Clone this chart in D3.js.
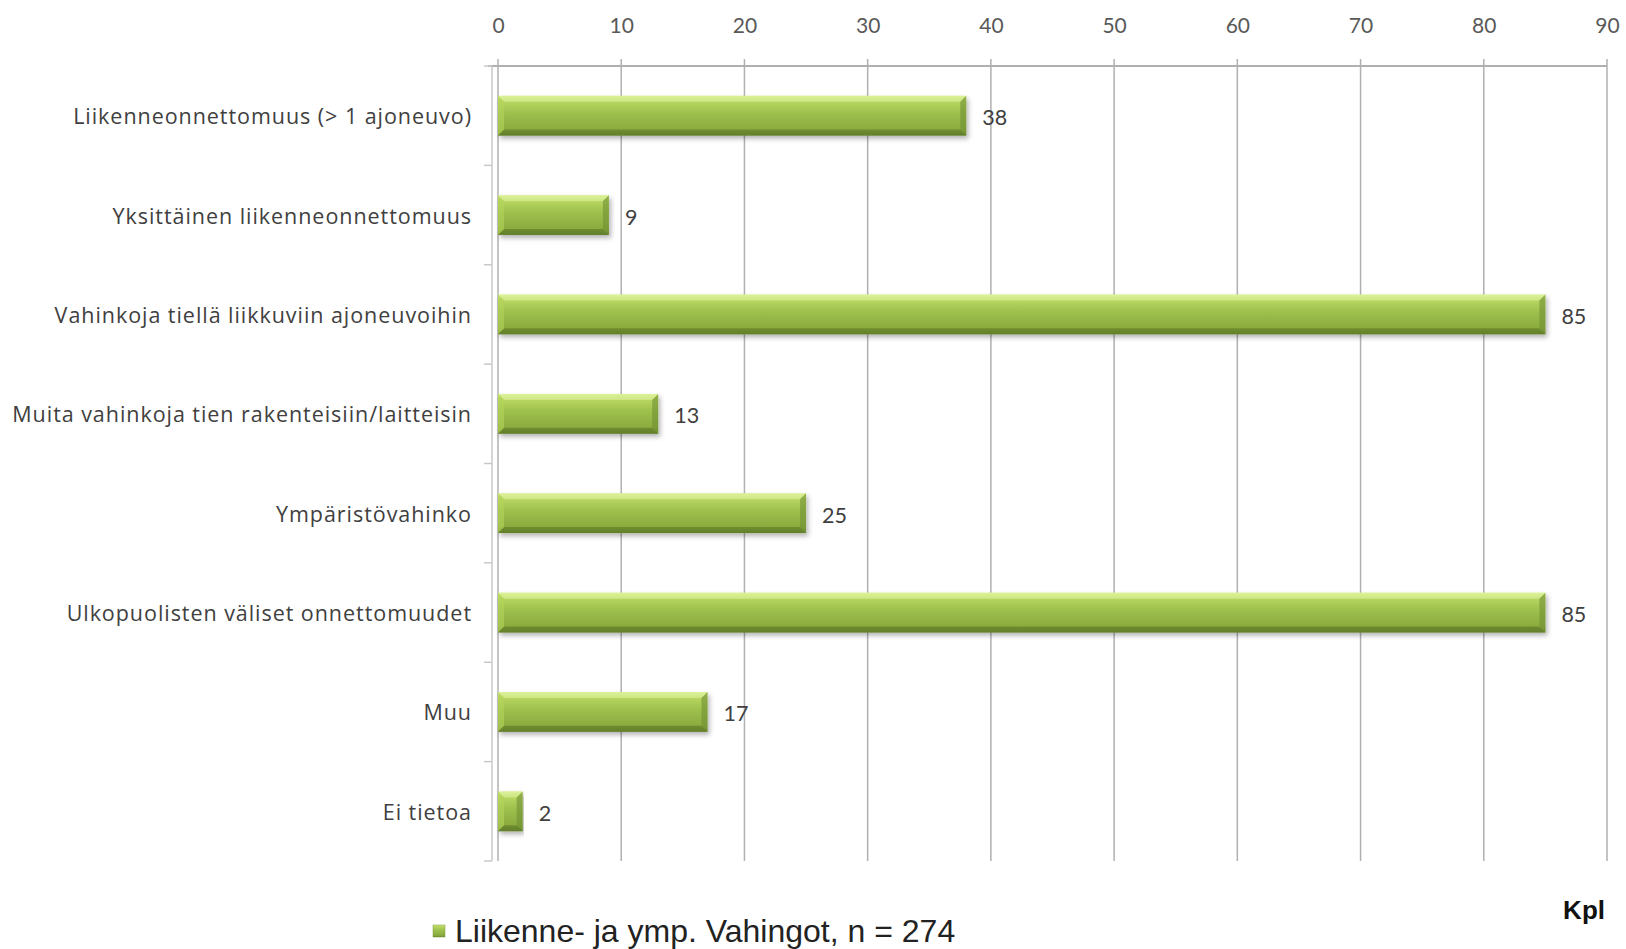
<!DOCTYPE html>
<html><head><meta charset="utf-8">
<script src="https://cdn.jsdelivr.net/npm/d3@7"></script>
<style>body{margin:0;background:#fff}svg{display:block}</style>
</head><body>
<svg id="chart" width="1626" height="949"></svg>
<script>
const categories = [
  "Liikenneonnettomuus (> 1 ajoneuvo)",
  "Yksittäinen liikenneonnettomuus",
  "Vahinkoja tiellä liikkuviin ajoneuvoihin",
  "Muita vahinkoja tien rakenteisiin/laitteisin",
  "Ympäristövahinko",
  "Ulkopuolisten väliset onnettomuudet",
  "Muu",
  "Ei tietoa"
];
const values = [38, 9, 85, 13, 25, 85, 17, 2];
const tickValues = [0,10,20,30,40,50,60,70,80,90];
const seriesName = "Liikenne- ja ymp. Vahingot, n = 274";
const unitLabel = "Kpl";

const svg = d3.select("#chart");
const m = {left: 498, right: 1626-1607, top: 66, bottom: 949-861};
const W = 1626, H = 949;

const x = d3.scaleLinear().domain([0,90]).range([m.left, W-m.right]);
const y = d3.scaleBand().domain(categories).range([m.top, H-m.bottom]).paddingInner(0.6).paddingOuter(0.3);
const yb = d3.scaleBand().domain(categories).range([m.top, H-m.bottom]);

const defs = svg.append("defs");
const g = defs.append("linearGradient").attr("id","barGrad").attr("x1",0).attr("y1",0).attr("x2",0).attr("y2",1);
[[0,"#d2ec86"],[0.12,"#b9d762"],[0.45,"#9dbf4c"],[0.85,"#8bab3f"],[1,"#6a8630"]].forEach(([o,c])=>g.append("stop").attr("offset",o).attr("stop-color",c));
const f = defs.append("filter").attr("id","shadow").attr("x","-5%").attr("y","-20%").attr("width","110%").attr("height","160%");
f.append("feDropShadow").attr("dx",2).attr("dy",3).attr("stdDeviation",2.5).attr("flood-color","#000").attr("flood-opacity",0.3);

// gridlines
svg.append("g").selectAll("line").data(tickValues).join("line")
  .attr("x1",d=>x(d)).attr("x2",d=>x(d)).attr("y1",m.top-7).attr("y2",H-m.bottom)
  .attr("stroke","#b0b0b0").attr("stroke-width",1.5);

// top axis
const ax = svg.append("g").attr("transform",`translate(0,${m.top})`)
  .call(d3.axisTop(x).tickValues(tickValues).tickSize(0).tickPadding(33));
ax.select(".domain").remove();
svg.append("line").attr("x1",m.left-10).attr("x2",W-m.right).attr("y1",m.top).attr("y2",m.top)
  .attr("stroke","#b0b0b0").attr("stroke-width",1.8);
ax.selectAll("text").attr("font-family","Lato, 'Open Sans', sans-serif").attr("font-size",21).attr("fill","#595959");

// left axis
const ly = svg.append("g").attr("transform",`translate(${m.left-6},0)`);
ly.append("line").attr("x1",0).attr("x2",0).attr("y1",m.top).attr("y2",H-m.bottom).attr("stroke","#c8c8c8").attr("stroke-width",1.5);
const bounds = categories.map(c=>yb(c)).concat([H-m.bottom]);
ly.selectAll("line.t").data(bounds).join("line").attr("class","t")
  .attr("x1",-8).attr("x2",0).attr("y1",d=>d).attr("y2",d=>d).attr("stroke","#c8c8c8").attr("stroke-width",1.5);

// category labels
svg.append("g").selectAll("text").data(categories).join("text")
  .attr("x",m.left-26).attr("y",d=>y(d)+y.bandwidth()/2+1).attr("dy","0.35em")
  .attr("text-anchor","end").attr("font-family","'Open Sans', Lato, sans-serif").attr("font-size",21.5)
  .attr("letter-spacing","0.95px")
  .attr("fill","#404040").text(d=>d);

// bars
const data = categories.map((c,i)=>({c, v: values[i]}));
const bars = svg.append("g").selectAll("g").data(data).join("g");
bars.append("rect").attr("x",x(0)).attr("y",d=>y(d.c)).attr("width",d=>x(d.v)-x(0)).attr("height",y.bandwidth())
  .attr("fill","url(#barGrad)").attr("filter","url(#shadow)");
const bev = (d)=>{const x0=x(0),x1=x(d.v),y0=y(d.c),h=y.bandwidth(),b=Math.min(6,(x1-x0)/3);return {x0,x1,y0,h,b};};
bars.append("path").attr("d",d=>{const {x0,x1,y0,h,b}=bev(d);
  return `M${x0},${y0}L${x1},${y0}L${x1-b},${y0+b}L${x0+b},${y0+b}Z`;}).attr("fill","#e4f5a6").attr("opacity",0.55);
bars.append("path").attr("d",d=>{const {x0,x1,y0,h,b}=bev(d);
  return `M${x0},${y0+h}L${x1},${y0+h}L${x1-b},${y0+h-b}L${x0+b},${y0+h-b}Z`;}).attr("fill","#5d7a27").attr("opacity",0.6);
bars.append("path").attr("d",d=>{const {x0,x1,y0,h,b}=bev(d);
  return `M${x1},${y0}L${x1},${y0+h}L${x1-b},${y0+h-b}L${x1-b},${y0+b}Z`;}).attr("fill","#6f8f33").attr("opacity",0.6);
bars.append("path").attr("d",d=>{const {x0,x1,y0,h,b}=bev(d);
  return `M${x0},${y0}L${x0},${y0+h}L${x0+b},${y0+h-b}L${x0+b},${y0+b}Z`;}).attr("fill","#b4d35a").attr("opacity",0.6);

// value labels
bars.append("text").attr("x",d=>x(d.v)+16).attr("y",d=>y(d.c)+y.bandwidth()/2+2).attr("dy","0.35em")
  .attr("font-family","Lato, 'Open Sans', sans-serif").attr("font-size",21.5).attr("fill","#404040").text(d=>d.v);

// legend
const lg = svg.append("g");
lg.append("rect").attr("x",433).attr("y",925).attr("width",12).attr("height",12).attr("fill","url(#barGrad)").attr("stroke","#7d9a3a").attr("stroke-width",0.5);
lg.append("text").attr("x",455).attr("y",931).attr("dy","0.35em").attr("font-family","'Liberation Sans', Arial, sans-serif")
  .attr("font-size",32).attr("fill","#222").text(seriesName);

svg.append("text").attr("x",1605).attr("y",910).attr("dy","0.35em").attr("text-anchor","end")
  .attr("font-family","'Liberation Sans', Arial, sans-serif").attr("font-weight","bold").attr("font-size",26).attr("fill","#111").text(unitLabel);
</script>
</body></html>
